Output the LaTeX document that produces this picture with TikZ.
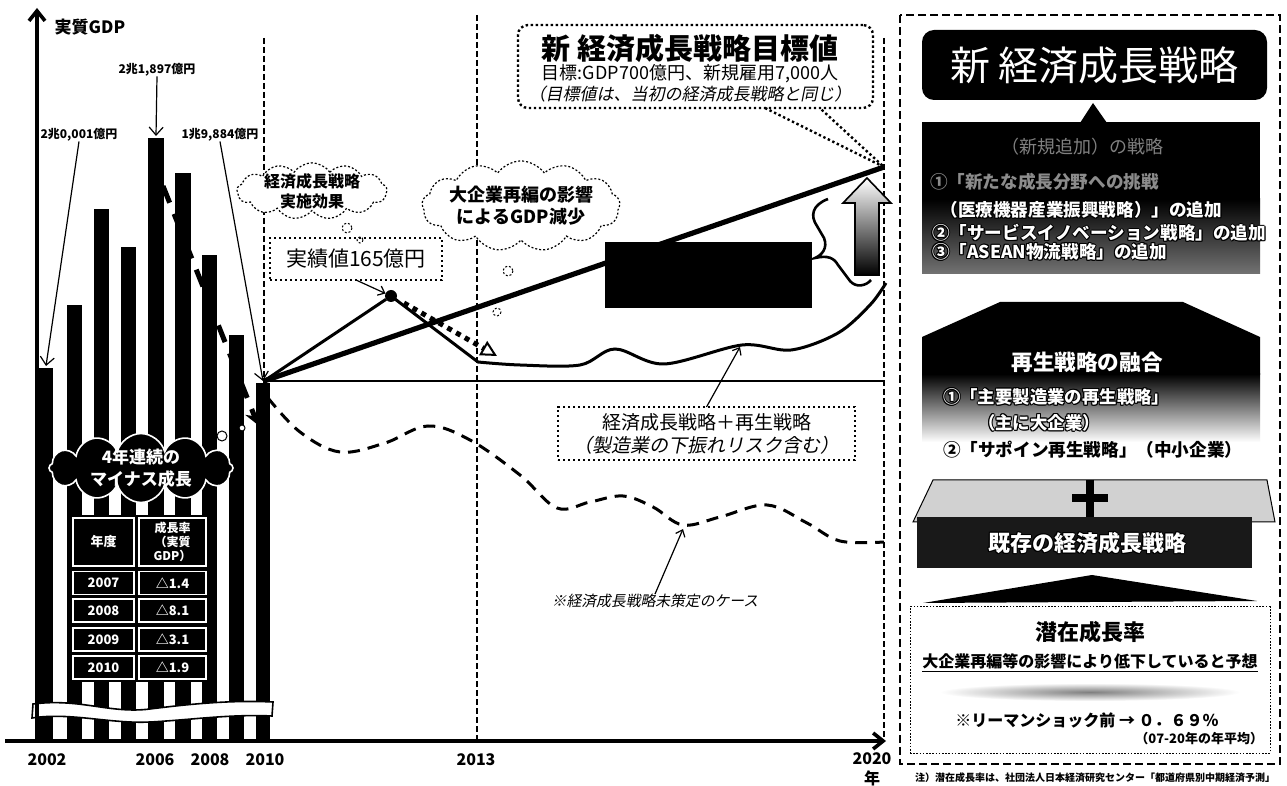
\documentclass[tikz,border=0pt]{standalone}
\usepackage{fontspec}
\setmainfont{Noto Sans CJK JP}[AutoFakeSlant=0.2]
\usetikzlibrary{shapes.symbols,shapes.geometric,arrows.meta,calc}
\newcommand\olt[1]{{\def\olttmp{#1}\leavevmode\color{black}%
\rlap{\kern-0.5pt\olttmp}\rlap{\kern0.5pt\olttmp}%
\rlap{\raisebox{0.5pt}{\olttmp}}\rlap{\raisebox{-0.5pt}{\olttmp}}%
\rlap{\kern-0.4pt\raisebox{0.4pt}{\olttmp}}\rlap{\kern0.4pt\raisebox{0.4pt}{\olttmp}}%
\rlap{\kern-0.4pt\raisebox{-0.4pt}{\olttmp}}\rlap{\kern0.4pt\raisebox{-0.4pt}{\olttmp}}%
\color{white}\olttmp}}
\begin{document}
\begin{tikzpicture}[x=0.5pt,y=-0.5pt,
  every node/.style={inner sep=0pt,outer sep=0pt},
  fs/.style args={#1/#2}{font={\fontsize{#1pt}{#2pt}\selectfont}},
  fsb/.style args={#1/#2}{font={\fontsize{#1pt}{#2pt}\selectfont\bfseries}},
  fsi/.style args={#1/#2}{font={\fontsize{#1pt}{#2pt}\selectfont\itshape}},
  fsbi/.style args={#1/#2}{font={\fontsize{#1pt}{#2pt}\selectfont\bfseries\itshape}},
  axisline/.style={line width=1.8pt},
  vdash/.style={line width=0.8pt, dash pattern=on 3pt off 1.5pt},
  dotbox/.style={draw, line width=1.2pt, dash pattern=on 1.2pt off 1.3pt},
  thought/.style={cloud, cloud puffs=13, cloud puff arc=110, aspect=2.6, draw, line width=0.6pt, dash pattern=on 1pt off 1pt, fill=white, inner sep=-4pt},
  valarrow/.style={line width=0.6pt, -{Straight Barb[length=4pt,width=7pt]}},
  tcell/.style={fill=black, draw=white, line width=0.6pt, text=white},
]
\useasboundingbox (0,0) rectangle (1287,786);
\fill[white] (0,0) rectangle (1287,786);

% ---------- vertical guide lines ----------
\draw[vdash] (264,38) -- (264,741);
\draw[vdash] (477,15) -- (477,741);
\draw[vdash] (884,38) -- (884,741);

% ---------- bars ----------
\foreach \l/\r/\t [count=\i] in {39/53/368, 67/82/305, 94/109/209, 121/136/247, 148/164/138, 175/191/173, 202/217/255, 229/244/335, 256/270/383}{
  \fill (\l,\t) rectangle (\r,741);
  \coordinate (b\i) at ({(\l+\r)/2},{\t-2});
}

% ribbon
\draw[fill=white, line width=0.8pt] (33,704) .. controls (80,698) and (110,714) .. (150,709) .. controls (190,704) and (230,700) .. (273,702) -- (272,716) .. controls (230,714) and (190,720) .. (150,722) .. controls (110,724) and (70,712) .. (32,718) -- cycle;

% minus-growth cloud
\node[cloud, cloud puffs=12, aspect=2.8, fill=black, draw=white, line width=0.8pt, minimum width=92pt, minimum height=33pt, inner sep=-3pt, fsb=8.5/11, align=center, text=white] (c4) at (141,468) {4年連続の\\マイナス成長};
\draw[fill=white, line width=0.5pt] (222,436) circle (5);
\draw[fill=white, line width=0.5pt] (242,428) circle (3);

% table
\fill (70,515) rectangle (209,682);
\node[tcell, minimum width=30.5pt, minimum height=24pt, fsb=6.5/8, align=center] (th1) at (103.5,542) {\olt{年度}};
\node[tcell, minimum width=33.5pt, minimum height=24pt, fsb=6/7, align=center] (th2) at (172.5,542) {\olt{成長率}\\\olt{（実質}\\\olt{GDP）}};
\foreach \y/\a/\b [count=\k] in {583/2007/△1.4, 610.5/2008/△8.1, 639.5/2009/△3.1, 667.5/2010/△1.9}{
  \node[tcell, minimum width=30.5pt, minimum height=11.5pt, fsb=6.5/7] (ty\k) at (103.5,\y) {\olt{\a}};
  \node[tcell, minimum width=33.5pt, minimum height=11.5pt, fsb=6.5/7] (tv\k) at (172.5,\y) {\olt{\b}};
}

% axes
\draw[axisline,-{Straight Barb[length=5pt,width=8pt]}] (37,742) -- (37,8);
\draw[axisline,-{Straight Barb[length=5pt,width=8pt]}] (5,741) -- (886,741);
\node[fsb=8.5/8.5] (ylab) at (90,27) {実質GDP};

% year labels
\node[fsb=8/8] (y2002) at (47,760) {2002};
\node[fsb=8/8] (y2006) at (155,760) {2006};
\node[fsb=8/8] (y2008) at (210,760) {2008};
\node[fsb=8/8] (y2010) at (265,760) {2010};
\node[fsb=8/8] (y2013) at (476,760) {2013};
\node[fsb=8/8] (y2020) at (872,759) {2020};
\node[fsb=8/8] (ynen) at (872,778) {年};

% value labels
\node[fsb=6/6] (v2002) at (79,135) {2兆0,001億円};
\node[fsb=6/6] (v2006) at (157,70) {2兆1,897億円};
\node[fsb=6/6] (v2010) at (220,135) {1兆9,884億円};
\draw[valarrow] (v2002.south) -- (b1);
\draw[valarrow] (v2006.south) -- (b5);
\draw[valarrow] (v2010.south) -- (b9);

% decline dashed arrow
\coordinate (ds) at (163,186);
\coordinate (de) at (258,425);
\draw[line width=2.5pt, dash pattern=on 9pt off 6pt, -{Stealth[length=7pt,width=8pt]}] (ds) -- (de);

% ---------- projection lines ----------
\coordinate (p2010) at (264,381);
\coordinate (b2020) at (884,381);
\coordinate (end2020) at (884,167);
\draw[line width=0.8pt] (p2010) -- (b2020);
\node[circle, fill=black, minimum size=6pt] (dot) at (391,296) {};
\draw[line width=1.5pt] (p2010) -- (dot);
\draw[line width=1.5pt] (dot) -- plot[smooth, tension=0.55] coordinates {(478,362) (520,365) (580,365) (615,349) (664,364) (742,345) (791,350) (838,333) (870,305) (886,283)};
\draw[line width=2.6pt] (p2010) -- (end2020);
\coordinate (da1) at (404,303);
\coordinate (da2) at (497,356);
\draw[line width=2.5pt, dash pattern=on 2.5pt off 2.5pt, -{Triangle[open, length=8pt, width=8pt, line width=1pt]}] (da1) -- (da2);

% no-strategy dashed curve
\draw[line width=1.5pt, dash pattern=on 6pt off 4pt] plot[smooth, tension=0.6] coordinates {(268,398) (300,432) (340,452) (385,443) (428,426) (470,440) (520,475) (557,508) (590,502) (623,496) (653,507) (683,525) (720,517) (767,505) (807,523) (840,541) (884,542)};

% black box, brace, arrow
\node[fill=black, minimum width=103.5pt, minimum height=33pt] (blackbox) at (708.5,275) {};
\draw[line width=1.3pt] (828,199) .. controls (812,205) and (810,216) .. (817,226) -- (824,238) .. controls (828,248) and (822,255) .. (815,258) .. controls (828,255) and (834,258) .. (838,265) -- (850,281) .. controls (856,288) and (866,286) .. (871,280);
\shade[top color=white, bottom color=black, draw=black, line width=0.8pt] (855,275) -- (855,203) -- (843,203) -- (867,178) -- (891,203) -- (879,203) -- (879,275) -- cycle;

% callouts
\node[dotbox, minimum width=86pt, minimum height=21pt, fs=10.5/10.5] (jis) at (356,259) {実績値165億円};
\draw[line width=0.6pt, -{Straight Barb[length=3pt,width=5pt]}] (jis.south) -- (dot);

\node[thought, minimum width=75pt, minimum height=26pt, fsb=8/10, align=center] (cl1) at (312,191) {経済成長戦略\\実施効果};
\draw[line width=0.5pt, dash pattern=on 1pt off 1pt] (347,228) circle (5);
\draw[line width=0.5pt, dash pattern=on 1pt off 1pt] (360,240) circle (3);
\node[thought, minimum width=99pt, minimum height=31pt, fsb=9/11, align=center] (cl2) at (521,206) {大企業再編の影響\\によるGDP減少};
\draw[line width=0.5pt, dash pattern=on 1pt off 1pt] (508,271) circle (5);
\draw[line width=0.5pt, dash pattern=on 1pt off 1pt] (497,312) circle (4);

\node[dotbox, rounded corners=5pt, minimum width=177.5pt, minimum height=41.5pt] (goal) at (695.5,66.5) {};
\node[fsb=14.5/14.5] (goalt) at (690,48) {新 経済成長戦略目標値};
\node[fs=9/9] (goal2) at (690,74) {目標:GDP700億円、新規雇用7,000人};
\node[fsi=8.5/8.5] (goal3) at (690,94) {（目標値は、当初の経済成長戦略と同じ）};
\draw[line width=1.2pt, dash pattern=on 1.2pt off 1.3pt] ($(goal.south west)!0.696!(goal.south east)$) -- (end2020) -- ($(goal.south west)!0.85!(goal.south east)$);

\node[dotbox, minimum width=148.5pt, minimum height=26.5pt, align=center, fs=9.5/11.5] (sbox) at (706.5,433.5) {経済成長戦略＋再生戦略\\{\itshape （製造業の下振れリスク含む）}};
\coordinate (crv1) at (740,347);
\draw[line width=0.6pt, -{Straight Barb[length=3pt,width=5pt]}] (sbox.north) -- (crv1);

\node[fsi=7.4/7.4] (mis) at (655,601) {※経済成長戦略未策定のケース};
\coordinate (crv2) at (683,529);
\draw[line width=0.6pt, -{Straight Barb[length=3pt,width=5pt]}] (mis.north) -- (crv2);

% ---------- right panel ----------
\draw[line width=1pt, dash pattern=on 4pt off 2pt] (900,15) rectangle (1280,764);
\node[fill=black, rounded corners=6pt, minimum width=172.5pt, minimum height=35pt, text=white, fs=20/20] (ns) at (1094.5,65) {新 経済成長戦略};
\fill (1093,103) -- (1080,123) -- (1107,123) -- cycle;

\fill (922,122) rectangle (1260,200);
\shade[top color=black, bottom color=black!55] (922,199) rectangle (1260,274);
\node[fs=9/9, text=black!50] (p1h) at (1082,147) {（新規追加）の戦略};
\node[fsb=8.8/9, anchor=west, text=black!45] (p1a) at (930,182) {①「新たな成長分野への挑戦};
\node[fsb=8.8/9, anchor=east] (p1b) at (1222,210) {\olt{（医療機器産業振興戦略）」の追加}};
\node[fsb=8.8/9, anchor=west] (p1c) at (932,233) {\olt{②「サービスイノベーション戦略」の追加}};
\node[fsb=8.8/9, anchor=west] (p1d) at (932,252) {\olt{③「ASEAN物流戦略」の追加}};

\fill (1000,302) -- (1183,302) -- (1260,337) -- (1260,375) -- (922,375) -- (922,337) -- cycle;
\shade[top color=black, middle color=black!60, bottom color=white] (922,374) rectangle (1260,442);
\node[fsb=10.8/11] (p2h) at (1087,362) {\olt{再生戦略の融合}};
\node[fsb=8.7/9, anchor=west] (p2a) at (943,397) {\olt{①「主要製造業の再生戦略」}};
\node[fsb=8.7/9, anchor=west] (p2b) at (978,423) {\olt{（主に大企業）}};
\node[fsb=8.8/9, anchor=west] (p2c) at (943,450) {②「サポイン再生戦略」（中小企業）};

\draw[fill=black!18, line width=0.5pt] (913,522) -- (933,480) -- (1267,480) -- (1275,522) -- cycle;
\draw[line width=4pt] (1072,498) -- (1108,498);
\draw[line width=4pt] (1090,480) -- (1090,517);
\node[fill=black!90, minimum width=167.5pt, minimum height=25.5pt] (kizon) at (1084.5,542.5) {};
\node[fsbi=11/11] (kizont) at (1087,543) {\olt{既存の経済成長戦略}};
\fill (923,603) -- (1092,575) -- (1257,601) -- cycle;

\node[draw, line width=0.5pt, dash pattern=on 0.8pt off 0.8pt, minimum width=180pt, minimum height=73pt] (pbox) at (1090,680) {};
\shade[inner color=black!50, outer color=white] (1090,692) ellipse (150 and 9);
\node[fsb=11/11] (pt1) at (1090,632) {潜在成長率};
\node[fsb=8/8] (pt2) at (1090,663) {\underline{大企業再編等の影響により低下していると予想}};
\node[fsb=8/8] (pt3) at (1087,720) {※リーマンショック前 → ０．６９％};
\node[fsb=6.5/6.5, anchor=east] (pt4) at (1263,739) {（07-20年の年平均）};
\node[fsb=5/5] (foot) at (1095,778) {注）潜在成長率は、社団法人日本経済研究センター「都道府県別中期経済予測」};
\end{tikzpicture}
\end{document}
